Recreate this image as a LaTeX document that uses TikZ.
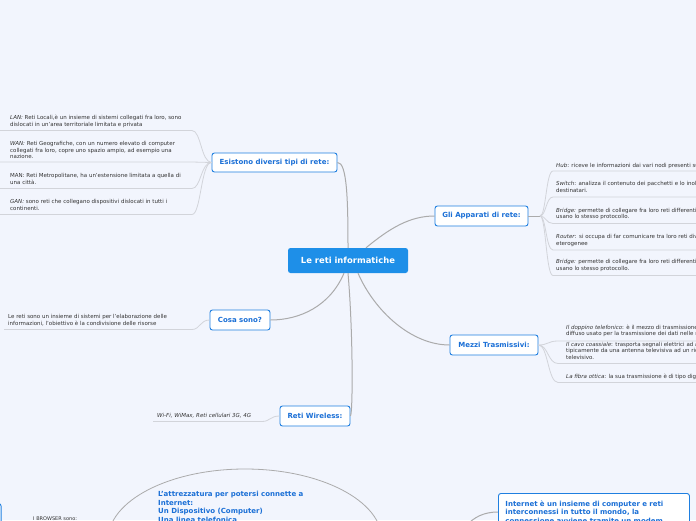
\documentclass[tikz,border=0pt]{standalone}
\usepackage{fontspec}
\setmainfont{DejaVu Sans}
\usetikzlibrary{shapes.geometric}
\definecolor{bg}{HTML}{F2F5FD}
\definecolor{nodeblue}{HTML}{1F7FE0}
\definecolor{textblue}{HTML}{1A6FD6}
\definecolor{hub}{HTML}{1E8FE8}
\definecolor{conn}{HTML}{ABABAB}
\definecolor{leafline}{HTML}{D2D4DA}
\definecolor{leaftext}{HTML}{333333}
\begin{document}
\begin{tikzpicture}[x=1pt,y=-1pt,
  topic/.style={draw=nodeblue, line width=0.9pt, fill=white, rounded corners=2.5pt, text=textblue, font=\fontsize{7}{8}\selectfont\bfseries, inner sep=0pt},
  central/.style={fill=hub, rounded corners=2.5pt, text=white, font=\fontsize{8.4}{10}\selectfont\bfseries, inner sep=0pt},
  leaf/.style={anchor=base west, inner sep=0pt, align=left, text=leaftext, font=\fontsize{5.5}{6.5}\selectfont},
  mainconn/.style={draw=conn, line width=1pt},
  leafconn/.style={draw=leafline, line width=0.8pt},
]
\useasboundingbox (0,0) rectangle (696,520);
\fill[bg] (0,0) rectangle (696,520);
\clip (0,0) rectangle (696,520);

% main topics
\node[central, minimum width=120pt, minimum height=25pt] (c) at (348,260.5) {Le reti informatiche};
\node[topic, minimum width=125pt, minimum height=19pt] (esist) at (274.5,162.5) {Esistono diversi tipi di rete:};
\node[topic, minimum width=93pt, minimum height=20pt] (app) at (481.5,216) {Gli Apparati di rete:};
\node[topic, minimum width=88pt, minimum height=20pt] (mezzi) at (494,345) {Mezzi Trasmissivi:};
\node[topic, minimum width=60pt, minimum height=20pt] (cosa) at (240,320) {Cosa sono?};
\node[topic, minimum width=70pt, minimum height=20pt] (wire) at (315,416) {Reti Wireless:};

% main connectors
\draw[mainconn] (c.north) .. controls (348,200) and (347,162) .. (esist.east);
\draw[mainconn] ([xshift=18pt]c.north) .. controls (390,228) and (410,216) .. (app.west);
\draw[mainconn] ([xshift=10pt]c.south) .. controls (375,312) and (412,345) .. (mezzi.west);
\draw[mainconn] ([xshift=-4pt]c.south) .. controls (330,306) and (300,320) .. (cosa.east);
\draw[mainconn] (c.south) .. controls (353,330) and (353,412) .. (wire.east);

% Esistono leaves (anchor = baseline of last line)
\node[leaf] (lan) at (10,126) {\textit{LAN:} Reti Locali,è un insieme di sistemi collegati fra loro, sono\\dislocati in un'area territoriale limitata e privata};
\node[leaf] (wan) at (10,158.5) {\textit{WAN:} Reti Geografiche, con un numero elevato di computer\\collegati fra loro, copre uno spazio ampio, ad esempio una\\nazione.};
\node[leaf] (man) at (10,184) {MAN: Reti Metropolitane, ha un'estensione limitata a quella di\\una città.};
\node[leaf] (gan) at (10,210) {\textit{GAN:} sono reti che collegano dispositivi dislocati in tutti i\\continenti.};
\foreach \n/\y in {lan/130.5,wan/162,man/188.5,gan/214.5}{
  \coordinate (\n U) at (0,\y);
  \coordinate (\n E) at (192,\y);
  \draw[leafconn] (esist.west) .. controls (201,162) and (201,\y) .. (\n E) -- (\n U);
}

% Apparati leaves
\node[leaf] (hubl) at (556,167) {\textit{Hub}: riceve le informazioni dai vari nodi presenti sulla rete};
\node[leaf] (sw) at (556,192) {\textit{Switch}: analizza il contenuto dei pacchetti e lo inoltra solo ai\\destinatari.};
\node[leaf] (br1) at (556,218.5) {\textit{Bridge:} permette di collegare fra loro reti differenti che\\usano lo stesso protocollo.};
\node[leaf] (rt) at (556,245) {\textit{Router}: si occupa di far comunicare tra loro reti diverse ed\\eterogenee};
\node[leaf] (br2) at (556,270) {\textit{Bridge:} permette di collegare fra loro reti differenti che\\usano lo stesso protocollo.};
\coordinate (appB) at (540,216);
\draw[mainconn] (app.east) -- (appB);
\foreach \n/\y in {hubl/171,sw/197,br1/223.5,rt/250,br2/275.5}{
  \coordinate (\n S) at (553,\y);
  \coordinate (\n R) at (696,\y);
  \draw[leafconn] (appB) .. controls (546,216) and (546,\y) .. (\n S) -- (\n R);
}

% Mezzi leaves
\node[leaf] (dop) at (566,335.5) {\textit{Il doppino telefonico}: è il mezzo di trasmissione più\\diffuso usato per la trasmissione dei dati nelle reti};
\node[leaf] (cav) at (566,359) {\textit{Il cavo coassiale}: trasporta segnali elettrici ad alta frequenza\\tipicamente da una antenna televisiva ad un ricevitore\\televisivo.};
\node[leaf] (fib) at (566,378) {\textit{La fibra ottica}: la sua trasmissione è di tipo digitale};
\foreach \n/\y in {dop/341,cav/363.5,fib/382.5}{
  \coordinate (\n S) at (558,\y);
  \coordinate (\n R) at (696,\y);
  \draw[leafconn] (mezzi.east) .. controls (548,345) and (548,\y) .. (\n S) -- (\n R);
}

% Cosa sono leaf
\node[leaf] (cosal) at (8,325) {Le reti sono un insieme di sistemi per l'elaborazione delle\\informazioni, l'obiettivo è la condivisione delle risorse};
\coordinate (cosaU) at (4,329.5);
\coordinate (cosaE) at (192,329.5);
\draw[leafconn] (cosa.west) .. controls (200,320) and (200,329.5) .. (cosaE) -- (cosaU);

% Wireless leaf
\node[leaf] (wl) at (157,417.5) {\textit{Wi-Fi, WiMax, Reti cellulari 3G, 4G}};
\coordinate (wlU) at (153,421.5);
\coordinate (wlE) at (262,421.5);
\draw[leafconn] (wire.west) .. controls (270,416) and (270,421.5) .. (wlE) -- (wlU);

% bottom part
\draw[conn, line width=0.8pt] (245,540) ellipse [x radius=137, y radius=71];
\coordinate (attr) at (245,540);
\node[anchor=north west, inner sep=0pt, align=left, text=textblue, font=\fontsize{7}{8.5}\selectfont\bfseries] (attrt) at (158,491) {L'attrezzatura per potersi connette a\\Internet:\\Un Dispositivo (Computer)\\Una linea telefonica};

\node[topic, anchor=north west, align=left, text width=177pt, inner xsep=7pt, inner ysep=7pt, font=\fontsize{7}{8.5}\selectfont\bfseries] (inet) at (498,493) {Internet è un insieme di computer e reti\\interconnessi in tutto il mondo, la\\connessione avviene tramite un modem\\e una linea telefonica};
\coordinate (inetC) at (466,526);
\draw[mainconn] ([yshift=-19pt]inet.north west) .. controls (484,512) and (474,517) .. (inetC);

\node[topic, anchor=north east, minimum width=30pt, minimum height=30pt] (brw) at (1.5,503) {};
\node[leaf, font=\fontsize{5}{6}\selectfont] (brwt) at (33,520.5) {I BROWSER sono:};
\end{tikzpicture}
\end{document}
